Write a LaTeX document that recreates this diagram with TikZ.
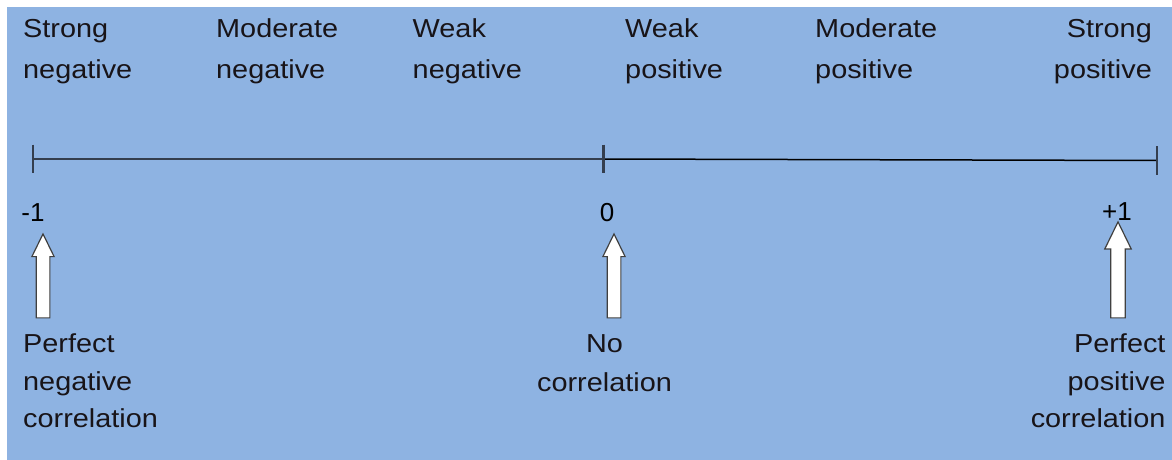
\documentclass[tikz,border=0pt]{standalone}
\usepackage{fontspec}
\setmainfont{Liberation Sans}
\newfontfamily\lblfont[FakeStretch=1.11]{Liberation Sans}
\usetikzlibrary{shapes.arrows, positioning}

\definecolor{bgblue}{RGB}{142,179,226}
\definecolor{axisgray}{RGB}{52,62,78}
\definecolor{txt}{RGB}{24,20,24}

\tikzset{
  toplbl/.style={font=\lblfont\fontsize{26}{40.5}\selectfont, text=txt, inner sep=0pt},
  botlbl/.style={font=\lblfont\fontsize{26}{37.5}\selectfont, text=txt, inner sep=0pt},
  vallbl/.style={font=\fontsize{26}{30}\selectfont, text=black, inner sep=0pt, anchor=base},
  blockarr/.style={single arrow, draw=black!75, fill=white, line width=1.2pt,
    shape border rotate=90, inner ysep=0pt, inner xsep=6.25pt,
    single arrow head extend=4.25pt, single arrow tip angle=52}
}

\begin{document}
\begin{tikzpicture}[x=1pt, y=-1pt]
        % page and background
        \useasboundingbox (0,0) rectangle (1172,460);
        \fill[bgblue] (7,7) rectangle (1172,460);

        % Strength labels along the top
        \node[toplbl, anchor=base west, align=left] (sneg) at (23,78) {Strong\\negative};
        \node[toplbl, anchor=base west, align=left] (mneg) at (216,78) {Moderate\\negative};
        \node[toplbl, anchor=base west, align=left] (wneg) at (412.5,78) {Weak\\negative};
        \node[toplbl, anchor=base west, align=left] (wpos) at (625,78) {Weak\\positive};
        \node[toplbl, anchor=base west, align=left] (mpos) at (815,78) {Moderate\\positive};
        \node[toplbl, anchor=base east, align=right] (spos) at (1152,78) {Strong\\positive};

        % Scale
        \coordinate (cneg) at (33,159);
        \coordinate (czero) at (603.5,159);
        \coordinate (cpos) at (1157,160.5);
        \draw[axisgray, line width=2pt] (cneg) -- (czero);
        \draw[black, line width=1.5pt] (czero) -- (cpos);
        \foreach \c in {cneg, czero, cpos}
          \draw[axisgray, line width=2.6pt] (\c) ++(0,-14.5) -- ++(0,28.5);

        % Values
        \node[vallbl] (vneg) at (33,221) {-1};
        \node[vallbl] (vzero) at (607,221) {0};
        \node[vallbl] (vpos) at (1117,220) {+1};

        % Block arrows
        \node[blockarr, minimum height=84pt, anchor=tip] (aneg) at (43,232.5) {};
        \node[blockarr, minimum height=84pt, anchor=tip] (azero) at (614,232.5) {};
        \node[blockarr, minimum height=96pt, inner xsep=6.65pt, single arrow head extend=6pt, anchor=tip] (apos) at (1118,220.5) {};

        % Descriptions
        \node[botlbl, anchor=base west, align=left] (dneg) at (23,427.7) {Perfect\\negative\\correlation};
        \node[botlbl, font=\lblfont\fontsize{26}{39}\selectfont, anchor=base, align=center] (dzero) at (604.5,391.7) {No\\correlation};
        \node[botlbl, anchor=base east, align=right] (dpos) at (1165.7,427.7) {Perfect\\positive\\correlation};
      \end{tikzpicture}
\end{document}
